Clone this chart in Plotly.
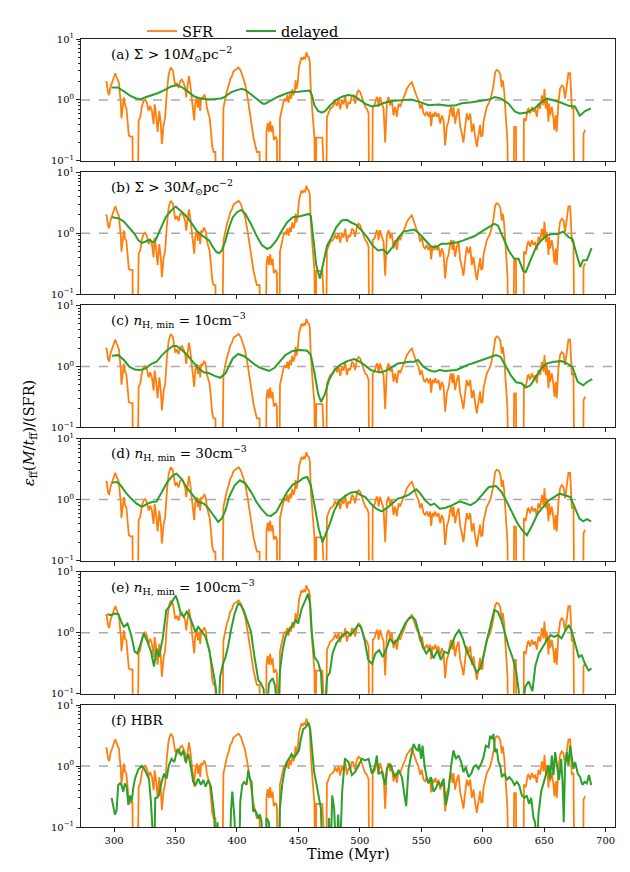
import plotly.graph_objects as go

# ---------------- data (Time in Myr, ratio values) ----------------
# 0.01 / 0.03 entries mark values that fall below the 1e-1 axis floor
SFR = [(293,2.0),(294,1.95),(295,1.35),(296,1.2),(297,1.6),(298,1.85),(299,2.2),(300,2.6),(301,2.75),(302,2.4),
       (303,2.1),(304,1.9),(304.5,1.4),(305.5,0.9),(306,0.5),(307,0.7),(308,1.1),(309,0.8),(310,0.75),(311,0.45),
       (312,0.26),(313.5,0.25),(315,0.25),(315.5,0.01),(319,0.01),(320,0.46),(321.3,0.52),(322.7,0.8),(324,0.96),
       (325.4,1.02),(326.7,0.9),(328.1,0.66),(329.4,0.8),(330.8,0.66),(332.2,0.4),(333,0.85),(334.1,0.6),(335.4,0.3),
       (336.8,0.66),(338.1,0.39),(338.9,0.19),(340.3,0.39),(341.6,0.52),(343,1.4),(344.4,2.6),(345.7,3.26),(346.5,3.34),
       (347.9,3.0),(349,2.16),(349.8,1.69),(351.1,1.9),(352.5,1.58),(353.8,2.03),(355.2,2.16),(356.6,1.9),(357.9,1.58),
       (358.7,1.1),(359.8,1.58),(360.9,2.45),(362,1.8),(363.1,1.15),(364.2,0.75),(365.2,0.46),(366,0.85),(367.4,1.1),
       (368.2,0.75),(369.3,1.05),(370.1,0.66),(370.9,1.1),(372,1.05),(373.4,1.23),(374.7,1.05),(375.5,0.75),(376.9,0.59),
       (377.7,0.52),(378.8,0.31),(379.9,0.17),(381,0.14),(382.5,0.14),(383,0.01),(388,0.01),(389,0.75),(390.5,1.1),
       (391.8,1.4),(393.2,1.7),(394.5,2.2),(395.9,2.45),(397.2,2.95),(398.6,3.1),(400,3.3),(401.3,3.4),(403.2,3.0),
       (404.8,2.3),(406.7,1.8),(408.6,1.1),(410.2,0.66),(411.3,0.46),(413.5,0.24),(414.9,0.18),(416.2,0.14),(418.4,0.14),
       (419,0.01),(423.5,0.01),(424,0.3),(425,0.42),(426,0.3),(427,0.45),(428,0.3),(429,0.38),(430,0.22),(431.5,0.25),
       (432.5,0.22),(433,0.01),(434.5,0.01),(435,0.5),(436,0.65),(437,0.8),(438,0.95),(439,1.05),(440,0.95),(441,1.2),
       (442,0.9),(443,1.25),(444,1.05),(445,1.5),(446,1.2),(447,1.4),(447.7,2.1),(448.5,1.5),(449.5,2.0),(450.5,3.5),
       (451.5,4.5),(452.5,5.0),(453.5,4.6),(454.5,5.0),(455.5,4.8),(456.5,6.0),(457.5,5.2),(458.5,5.0),(459.3,4.2),
       (460,1.6),(461.5,0.6),(463,0.25),(464,0.01),(464.5,0.24),(469.5,0.24),(470,0.01),(472.5,0.01),(473.2,0.52),
       (474.5,0.62),(475.9,0.72),(477.2,0.75),(478.6,0.8),(479.9,0.95),(481.3,0.8),(482.6,1.0),(484,0.7),(485.4,1.0),
       (486.7,0.85),(488.1,1.19),(489.4,0.72),(490.8,0.93),(492.1,0.87),(493.5,1.19),(494.8,1.12),(496.2,0.87),
       (497.6,1.27),(498.9,1.43),(500.3,1.35),(501.6,1.12),(503,0.87),(504.3,0.77),(505.7,0.72),(507.1,0.6),
       (507.6,0.01),(510,0.01),(510.5,0.77),(511.9,0.82),(513.8,1.12),(514.6,1.05),(515.2,0.77),(516.5,1.12),
       (517.9,0.87),(519.3,0.72),(520.6,0.2),(522,0.93),(523.3,1.12),(524.7,0.82),(526,0.99),(527.4,0.56),(528.7,0.77),
       (530.1,0.53),(531.5,0.87),(532.8,0.77),(534.2,0.93),(535.5,1.05),(536.9,1.27),(538.2,1.53),(539.6,1.73),
       (540.9,1.84),(542.3,1.96),(543.7,1.62),(545,1.27),(546.4,1.12),(547.7,0.99),(549.1,0.72),(550.4,0.87),
       (551.8,0.6),(553.1,0.56),(554.5,0.64),(555.9,0.53),(557.2,0.64),(558,0.37),(559.1,0.6),(560.2,0.53),(561.3,0.64),
       (562.6,0.53),(564,0.6),(565.4,0.41),(566.7,0.56),(568.1,0.47),(569.4,0.18),(570.8,0.37),(572.1,0.44),(573.5,0.68),
       (574.3,0.77),(575.4,0.53),(576.2,0.77),(577.5,0.41),(578.9,0.6),(580.3,0.72),(581.6,0.37),(583,0.28),(584.3,0.2),
       (585.7,0.37),(587,0.6),(588.4,0.47),(589.8,0.6),(591.1,0.3),(592.5,0.41),(593.8,0.25),(595.2,0.17),(596.5,0.26),
       (597.9,0.39),(598.7,0.25),(599.8,0.26),(600.6,0.44),(602,0.6),(603.3,0.77),(604.7,0.87),(606,0.99),(607.4,1.27),
       (608.7,1.73),(610.1,2.84),(611.4,3.1),(612.8,3.0),(614.2,2.67),(615.5,1.62),(616.3,2.1),(617.4,1.43),(618.2,0.87),
       (619.3,0.41),(620.1,0.2),(620.9,0.01),(625,0.01),(625.5,0.36),(627,0.36),(627.5,0.01),(633,0.01),(633.5,0.5),
       (635,0.45),(636.5,0.7),(637.2,0.72),(638.6,0.6),(639.9,0.77),(641.3,0.64),(642.6,0.72),(644,0.53),(645.3,0.87),
       (646.7,0.72),(648.1,1.19),(649.4,0.82),(650.2,1.53),(651.3,0.72),(652.1,1.05),(653.5,0.44),(654,0.87),(654.8,0.56),
       (656.2,0.77),(657.5,0.5),(658.3,0.32),(659.4,0.56),(660.2,0.3),(661.6,0.93),(662.9,1.53),(664.3,1.73),(665.7,1.62),
       (667,1.05),(668.4,1.73),(669.7,2.74),(671.1,2.74),(671.9,0.87),(672.5,0.72),(673.8,0.77),(674.6,0.01),(681.7,0.01),
       (682,0.28),(683.3,0.32)]

DELAYED_A = [(298,1.6),(303,1.6),(308,1.38),(313,1.18),(318,1.06),(322,1.03),(325,1.1),(330,1.18),(336,1.3),(341,1.45),
             (346,1.65),(351,1.75),(355,1.63),(360,1.38),(365,1.15),(370,1.06),(376,1.03),(382,1.04),(387,1.06),(390,1.12),
             (395,1.33),(400,1.45),(404,1.52),(407,1.45),(412,1.2),(417,1.0),(421,0.87),(423,0.87),(428,0.98),(433,1.12),
             (439,1.25),(444,1.35),(450,1.36),(455,1.4),(459,1.43),(461,1.2),(463,0.82),(466,0.66),(469,0.62),(472,0.66),
             (475,0.78),(480,0.98),(485,1.12),(490,1.2),(495,1.17),(500,1.0),(505,0.85),(510,0.78),(515,0.82),(520,0.9),
             (528,0.97),(537,1.0),(542,1.02),(549,0.92),(556,0.82),(564,0.84),(572,0.8),(578,0.82),(583,0.88),(591,0.92),
             (599,0.97),(605,1.02),(610,1.12),(615,1.05),(621,0.87),(626,0.65),(630,0.6),(636,0.62),(643,0.75),(648,0.93),
             (652,1.05),(657,1.0),(664,0.9),(670,0.8),(675,0.78),(679,0.55),(683,0.65),(688,0.73)]

DELAYED_B = [(298.2,1.83),(303.5,1.76),(308,1.55),(312.4,1.25),(316.8,0.97),(319.8,0.76),(322.7,0.69),(325.7,0.73),
             (328.7,0.78),(331.6,0.71),(333.7,0.76),(336,0.97),(339,1.34),(342,1.83),(346.4,2.35),(350.2,2.74),(353.8,2.35),
             (358.2,1.95),(362.6,1.51),(367.1,1.1),(371.5,0.92),(374.4,0.83),(377.4,0.76),(380.4,0.59),(383.3,0.49),
             (385.7,0.47),(387.7,0.52),(390.7,0.76),(393.6,1.25),(396.6,1.83),(400.1,2.21),(403.4,2.41),(406.9,2.07),
             (411.4,1.42),(415.8,0.92),(420.2,0.64),(424.7,0.55),(427.6,0.59),(432.1,0.76),(436.5,1.1),(440.9,1.51),
             (445.4,1.83),(451.3,1.9),(458.6,2.07),(460.1,1.9),(462.2,0.81),(464.5,0.3),(467.5,0.18),(470.5,0.33),
             (473.4,0.63),(476.4,0.81),(480.8,1.25),(485.2,1.61),(489.7,1.65),(492.6,1.51),(497,1.37),(501.5,1.1),
             (505.9,0.86),(510.3,0.63),(514.8,0.52),(519.2,0.54),(522.2,0.46),(526.6,0.59),(531,0.83),(535.5,1.06),
             (539.9,1.1),(544.3,1.15),(548.7,0.97),(553.2,0.76),(557.6,0.61),(562,0.59),(566.5,0.67),(570.9,0.67),
             (575.3,0.68),(579.8,0.71),(584.2,0.76),(588.6,0.83),(593.1,0.89),(599,1.06),(604.9,1.25),(609.3,1.42),
             (612.3,1.34),(616.7,0.81),(621.1,0.52),(625.6,0.38),(629.1,0.38),(633,0.24),(635,0.23),(638.9,0.36),
             (643.3,0.59),(647.7,0.76),(652.2,0.92),(656.6,0.97),(661,0.97),(665.5,1.06),(669.9,0.86),(672.8,0.81),
             (676.4,0.43),(679.3,0.28),(681.7,0.36),(684.7,0.36),(688.5,0.57)]

DELAYED_C = [(298.2,1.5),(303.5,1.53),(308,1.27),(312.4,0.99),(316.8,0.89),(321.3,0.87),(325.7,0.93),(330.1,1.09),
             (334.6,1.19),(339,1.53),(343.4,1.86),(347.9,2.16),(350.8,2.16),(355.2,1.86),(359.7,1.53),(364.1,1.19),
             (368.5,0.93),(373,0.8),(377.4,0.77),(381.8,0.7),(386.3,0.65),(390.7,0.77),(393.6,1.05),(396.6,1.35),(401,1.6),
             (405.5,1.48),(409.9,1.27),(414.3,1.08),(418.8,0.95),(423.2,0.87),(426.1,0.84),(430.6,0.95),(435,1.19),
             (439.4,1.53),(445.3,1.79),(451.3,1.86),(457.2,1.81),(460.1,1.53),(463.1,0.77),(466,0.36),(468.4,0.26),
             (471.3,0.34),(474.9,0.6),(479.3,0.87),(483.7,1.05),(489.7,1.22),(495.6,1.32),(500,1.19),(504.4,1.03),
             (508.9,0.87),(513.3,0.82),(517.7,0.8),(522.2,0.87),(526.6,0.99),(531,1.12),(535.5,1.15),(539.9,1.19),
             (544.3,1.19),(547.3,1.27),(551.7,0.99),(556.1,0.87),(560.6,0.82),(565,0.87),(569.4,0.84),(573.9,0.85),
             (578.3,0.87),(582.7,0.95),(587.2,1.05),(593.1,1.15),(599,1.27),(604.9,1.39),(610.8,1.53),(614.4,1.44),
             (618.2,1.05),(622.7,0.72),(627.1,0.55),(631.5,0.53),(635.1,0.45),(638.8,0.49),(643.3,0.68),(647.7,0.93),
             (652.2,1.12),(658.1,1.19),(664,1.22),(668.4,1.12),(672.8,0.99),(677.3,0.56),(681.7,0.49),(685.2,0.56),
             (689.1,0.62)]

DELAYED_D = [(298.2,1.9),(302,1.95),(305,1.76),(309.5,1.3),(313.9,1.04),(318.3,0.86),(322.7,0.76),(327.2,0.86),
             (331.6,0.92),(334.6,0.93),(339,1.34),(343.4,1.95),(347.9,2.5),(350.8,2.67),(355.2,2.15),(359.7,1.51),
             (364.1,1.18),(368.5,0.92),(373,0.86),(375.9,0.76),(380.4,0.57),(384.8,0.43),(387.7,0.49),(390.7,0.67),
             (393.6,1.1),(398.1,1.72),(402.5,2.07),(406.9,1.83),(411.4,1.34),(415.8,0.92),(420.2,0.69),(424.7,0.55),
             (427.6,0.54),(432.1,0.63),(436.5,0.92),(440.9,1.34),(445.4,1.76),(449.8,1.95),(454.2,2.27),(457.2,2.35),
             (460.1,1.72),(463.1,0.81),(466.6,0.33),(469.6,0.2),(471.9,0.26),(475.5,0.4),(479.3,0.67),(483.7,0.97),
             (488.2,1.15),(492.6,1.3),(497,1.34),(500,1.21),(504.4,1.1),(508.9,0.86),(513.3,0.71),(517.7,0.64),
             (522.2,0.73),(526.6,0.86),(531,1.04),(535.5,1.1),(539.9,1.21),(545.8,1.48),(548.7,1.3),(553.2,0.97),
             (557.6,0.81),(560.6,0.86),(565,0.71),(569.4,0.73),(575.3,0.81),(581.3,0.94),(585.7,0.86),(590.1,0.81),
             (594.6,0.92),(599,1.18),(604.9,1.61),(610.8,1.67),(615.2,1.34),(619.6,0.92),(624.1,0.59),(628.5,0.4),
             (632.9,0.3),(635.9,0.26),(640.3,0.38),(644.7,0.59),(649.2,0.76),(653.6,0.97),(658,1.1),(662.5,1.25),
             (666.9,1.18),(671.3,1.1),(675.2,0.71),(678.7,0.49),(681.7,0.44),(684.7,0.48),(688.2,0.44)]

DELAYED_E = [(294.7,2.02),(297.6,1.95),(300.6,2.07),(303.5,2.02),(305.9,1.51),(308,1.25),(310.9,1.42),(313.9,0.92),
             (316.8,0.49),(318.9,0.46),(321.3,0.63),(324.2,0.97),(327.2,0.71),(330.1,0.49),(332.5,0.28),(334.6,0.55),
             (336.6,0.4),(339.6,0.81),(342.5,2.35),(344.9,2.67),(347.9,3.43),(350.2,4.1),(352.3,3.03),(354.3,2.07),
             (356.7,1.83),(359.1,2.21),(361.1,1.95),(363.2,1.51),(366.2,1.04),(368.5,1.25),(371.5,1.04),(374.4,0.86),
             (377.4,0.52),(379.7,0.31),(381.8,0.17),(383.3,0.1),(384.8,0.03),(386.3,0.19),(388.6,0.31),(390.7,0.4),
             (392.7,0.59),(395.1,1.1),(398.1,2.07),(401,3.03),(403.1,2.84),(405.5,2.35),(408.4,1.61),(411.4,1.04),
             (414.3,0.4),(417.3,0.17),(419.3,0.15),(421.7,0.12),(423.2,0.03),(426.1,0.15),(429.1,0.18),(431.2,0.13),
             (432.9,0.03),(435,0.24),(437.1,0.52),(439.4,0.86),(442.4,1.1),(445.3,1.34),(447.7,1.61),(449.8,1.42),
             (452.7,2.5),(455.7,3.43),(457.8,4.4),(459.5,3.03),(461,0.97),(463.1,0.4),(466,0.33),(468.4,0.22),
             (470.5,0.03),(473.4,0.19),(475.5,0.22),(477.8,0.46),(480.8,0.67),(483.7,0.81),(486.7,0.92),(489.6,1.04),
             (492.6,0.92),(495.6,1.1),(498.5,1.34),(500.9,1.25),(503.8,0.76),(506.8,0.36),(509.8,0.31),(512.7,0.46),
             (515.7,0.52),(518.6,0.4),(521.6,0.55),(524.5,0.81),(527.5,0.67),(530.4,0.76),(534,1.1),(536.9,1.42),
             (539.9,1.72),(542.8,1.83),(545.2,1.61),(548.1,0.97),(551.1,0.59),(554.1,0.46),(557,0.55),(560,0.38),
             (563,0.52),(565.9,0.36),(568.9,0.49),(571.8,0.46),(574.8,0.63),(577.8,0.92),(580.7,1.1),(583.7,0.81),
             (586.6,0.52),(589.6,0.38),(592.5,0.3),(595.4,0.22),(598.4,0.28),(600.5,0.4),(603.4,0.76),(606.4,1.42),
             (609.3,2.35),(612.3,2.21),(615.2,1.61),(618.2,0.97),(621.1,0.59),(624.1,0.4),(627.1,0.24),(629.1,0.12),
             (631.5,0.03),(634.5,0.13),(637.4,0.16),(640.4,0.11),(642.7,0.28),(645.7,0.46),(648.6,0.59),(652.2,0.76),
             (655.1,0.92),(658.1,0.86),(661,0.92),(664,0.81),(666.9,1.04),(669.9,1.34),(672.2,1.1),(675.2,0.67),
             (678.1,0.4),(680.5,0.43),(683.2,0.31),(686.1,0.24),(688.5,0.26)]

DELAYED_F = [(298,0.3),(299.4,0.23),(300.7,0.16),(302.1,0.19),(303.4,0.49),(304.8,0.52),(306.1,0.49),(307.5,0.38),
             (308.8,0.52),(310.2,0.46),(311.6,0.23),(312.9,0.33),(314.3,0.26),(315.6,0.43),(317,0.62),(319.7,0.88),
             (322.4,1.0),(324.6,0.9),(326.5,0.75),(328.4,0.62),(330,0.26),(331.1,0.03),(332.7,0.03),(333.5,0.3),
             (334.6,0.3),(336.5,0.33),(338.7,0.55),(340.8,0.75),(342.7,0.62),(344.6,1.03),(346.8,1.31),(349,1.16),
             (350.9,1.69),(352.2,1.91),(354.4,1.49),(356.3,1.8),(358.2,1.16),(360.4,1.58),(362.3,1.03),(364.4,0.55),
             (366.3,0.49),(368.5,0.62),(370.7,0.49),(372.6,0.59),(374.5,0.46),(376.6,0.59),(378.8,0.46),(380.2,0.26),
             (381.5,0.16),(382.6,0.03),(384.2,0.12),(385.3,0.03),(394.3,0.03),(395.1,0.18),(396.2,0.38),(397.8,0.16),
             (399.4,0.03),(401.8,0.03),(402.7,0.26),(404.3,0.49),(405.9,0.55),(407.8,0.49),(409.2,0.85),(410.5,0.62),
             (411.9,0.55),(413.2,0.18),(414.6,0.19),(415.9,0.17),(417.3,0.14),(418.7,0.16),(420,0.12),(421.4,0.03),
             (423.5,0.03),(424.1,0.14),(426,0.12),(427.6,0.03),(434.2,0.03),(434.9,0.2),(436.8,0.49),(438.5,0.8),
             (440.4,1.16),(442.3,1.31),(444.4,1.58),(446.6,1.4),(448.5,1.58),(450.4,1.8),(452,2.78),(453.9,4.03),
             (455.8,4.3),(458,5.2),(459.6,4.03),(461.2,1.49),(462.8,0.8),(464.8,0.49),(466.6,0.3),(468.3,0.2),
             (469.6,0.03),(474.2,0.03),(474.8,0.14),(476.2,0.03),(477.5,0.33),(479.1,0.2),(480.8,0.03),(482.4,0.16),
             (483.7,0.03),(485.6,0.38),(487.8,1.31),(488.1,1.31),(490.8,1.16),(493.5,0.71),(496.2,0.8),(498.9,1.03),
             (501.6,1.31),(504.3,1.24),(507.1,1.31),(509.8,0.75),(512.5,1.03),(513.8,1.49),(515.2,0.75),(517.9,0.8),
             (520.6,0.49),(522,0.9),(524.7,1.09),(527.4,0.75),(528.7,0.66),(531.5,0.85),(534.2,0.66),(536.3,0.33),
             (537.7,0.22),(539.6,0.9),(541.5,1.49),(543.7,2.3),(545.6,1.91),(547.2,1.8),(548.3,2.3),(549.9,1.31),
             (551,2.16),(552.6,1.03),(554.5,0.62),(555.9,0.52),(558,0.66),(559.9,0.38),(561.8,0.43),(564,0.55),
             (566.2,0.46),(568.1,0.62),(570,0.23),(572.1,0.38),(574.3,1.03),(576.2,1.8),(578.1,1.31),(580.3,1.49),
             (582.4,1.16),(584.3,0.8),(586.2,0.96),(588.4,0.66),(590.6,0.75),(592.5,0.96),(594.4,1.03),(596.5,0.9),
             (598.7,1.09),(600.6,1.4),(602.5,2.16),(604.7,2.03),(606,3.14),(607.4,2.78),(608.7,3.34),(610.1,1.69),
             (611.4,1.91),(612.8,1.16),(614.2,1.03),(615.5,0.66),(617.7,0.75),(619.6,0.59),(621.5,0.66),(623.7,0.59),
             (625.8,0.49),(627.7,0.55),(629.6,0.49),(631.8,0.33),(634,0.3),(635.8,0.33),(637.7,0.24),(639.4,0.3),
             (641.3,0.14),(642.6,0.12),(644,0.03),(645.3,0.16),(647.5,0.38),(649.4,0.55),(651.3,0.71),(653.5,1.03),
             (654.8,0.62),(656.2,1.49),(657.5,0.71),(658.9,1.69),(660.5,1.03),(662.1,0.59),(663.8,1.31),(664.9,0.55),
             (665.9,0.12),(667,1.03),(668.4,1.69),(669.7,1.03),(671.1,2.16),(672.5,1.24),(673.8,0.9),(675.2,1.16),
             (677.3,0.75),(679.2,0.66),(681.1,0.49),(682.8,0.55),(684.6,0.52),(686.5,0.71),(688.2,0.49)]

DELAYED = [DELAYED_A, DELAYED_B, DELAYED_C, DELAYED_D, DELAYED_E, DELAYED_F]
PANEL_LABELS = [
    "(a) Σ > 10<i>M</i><sub>⊙</sub>pc<sup>−2</sup>",
    "(b) Σ > 30<i>M</i><sub>⊙</sub>pc<sup>−2</sup>",
    "(c) <i>n</i><sub>H, min</sub> = 10cm<sup>−3</sup>",
    "(d) <i>n</i><sub>H, min</sub> = 30cm<sup>−3</sup>",
    "(e) <i>n</i><sub>H, min</sub> = 100cm<sup>−3</sup>",
    "(f) HBR",
]
X_TICKS = [300, 350, 400, 450, 500, 550, 600, 650, 700]
Y_TICKS = [0.1, 1, 10]
Y_TICKTEXT = ["10<sup>−1</sup>", "10<sup>0</sup>", "10<sup>1</sup>"]
Y_MINOR = [0.2, 0.3, 0.4, 0.5, 0.6, 0.7, 0.8, 0.9, 2, 3, 4, 5, 6, 7, 8, 9]

ORANGE = "#ff7f0e"
GREEN = "#2ca02c"
FONT = "DejaVu Serif"

# ---------------- layout geometry ----------------
# the page body adds an 8 px offset; the figure is sized so the page fits the window
OFF = 8
W, H = 614, 856
ML, MR, MT, MB = 73, 7, 20, 37
plot_w = W - ML - MR
plot_h = H - MT - MB
panel_h = 123.6
step = (plot_h - panel_h) / 5.0

fig = go.Figure()
layout = dict(
    width=W, height=H, margin=dict(l=ML, r=MR, t=MT, b=MB, pad=0),
    paper_bgcolor="white", plot_bgcolor="white",
    font=dict(family=FONT, size=10, color="black"),
    showlegend=True,
    legend=dict(orientation="h", x=(142 - OFF - ML) / plot_w, y=1 + 8.0 / plot_h,
                xanchor="left", yanchor="middle",
                font=dict(family=FONT, size=14.5), bgcolor="rgba(0,0,0,0)",
                entrywidth=54, entrywidthmode="pixels", tracegroupgap=0),
)

annotations = []
shapes = []
for i in range(6):
    n = i + 1
    xa = "x" if n == 1 else f"x{n}"
    ya = "y" if n == 1 else f"y{n}"
    top_px = i * step
    bot_px = top_px + panel_h
    dom = [max(0.0, 1 - bot_px / plot_h), min(1.0, 1 - top_px / plot_h)]

    tx = [p[0] for p in SFR]
    ty = [p[1] for p in SFR]
    fig.add_trace(go.Scatter(x=tx, y=ty, mode="lines", line=dict(color=ORANGE, width=1.8),
                             name="SFR", showlegend=(i == 0), xaxis=xa, yaxis=ya, hoverinfo="skip"))
    gx = [p[0] for p in DELAYED[i]]
    gy = [p[1] for p in DELAYED[i]]
    fig.add_trace(go.Scatter(x=gx, y=gy, mode="lines", line=dict(color=GREEN, width=2.0),
                             name="delayed", showlegend=(i == 0), xaxis=xa, yaxis=ya, hoverinfo="skip"))

    xkey = "xaxis" if n == 1 else f"xaxis{n}"
    ykey = "yaxis" if n == 1 else f"yaxis{n}"
    layout[xkey] = dict(
        domain=[0, 1], anchor=ya, range=[273.1, 707.6], tickmode="array", tickvals=X_TICKS,
        ticks="outside", ticklen=4, tickwidth=1, tickcolor="#222", showticklabels=(n == 6),
        showline=True, linecolor="#222", linewidth=1, mirror=True, showgrid=False, zeroline=False,
        tickfont=dict(family=FONT, size=10),
    )
    if n != 1:
        layout[xkey]["matches"] = "x"
    layout[ykey] = dict(
        domain=dom, anchor=xa, type="log", range=[-1, 1], tickmode="array", tickvals=Y_TICKS,
        ticktext=Y_TICKTEXT, ticks="outside", ticklen=4, tickwidth=1, tickcolor="#222",
        showline=True, linecolor="#222", linewidth=1, mirror=True, showgrid=False, zeroline=False,
        tickfont=dict(family=FONT, size=10),
        minor=dict(tickmode="array", tickvals=Y_MINOR, ticks="outside", ticklen=2, tickwidth=0.8,
                   tickcolor="#222", showgrid=False),
    )
    shapes.append(dict(type="line", xref=f"{xa} domain", yref=ya, x0=0, x1=1, y0=1, y1=1,
                       line=dict(color="#aaaaaa", width=1.5, dash="dash"), layer="below"))
    annotations.append(dict(text=PANEL_LABELS[i], xref=f"{xa} domain", yref=f"{ya} domain",
                            x=(108.5 - OFF - ML) / plot_w, y=1 - 15.0 / panel_h,
                            xanchor="left", yanchor="middle",
                            showarrow=False, font=dict(family=FONT, size=13.5, color="black")))

annotations.append(dict(text="<i>ε</i><sub>ff</sub>(<i>M</i>/<i>t</i><sub>ff</sub>)/(SFR)",
                        xref="paper", yref="paper", x=(30 - OFF - ML) / plot_w, y=0.5,
                        xanchor="center", yanchor="middle", textangle=-90, showarrow=False,
                        font=dict(family=FONT, size=14.5)))
annotations.append(dict(text="Time (Myr)", xref="paper", yref="paper", x=0.5,
                        y=-((854 - OFF) - (H - MB)) / plot_h, xanchor="center", yanchor="middle",
                        showarrow=False, font=dict(family=FONT, size=14.5)))
layout["annotations"] = annotations
layout["shapes"] = shapes
fig.update_layout(**layout)
fig.write_html("out.html")
